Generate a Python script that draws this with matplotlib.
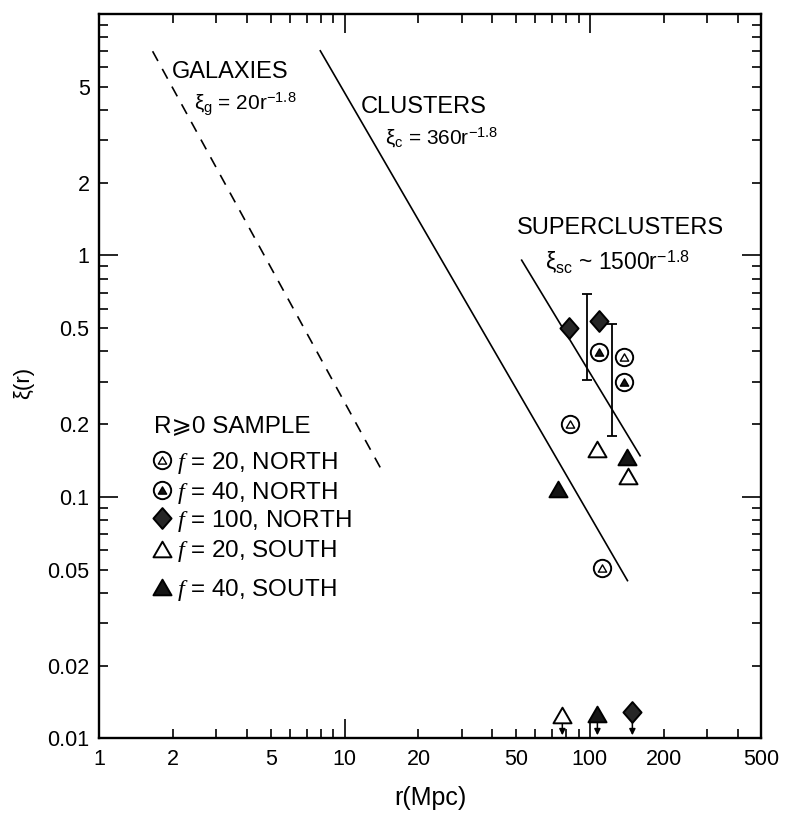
import matplotlib
matplotlib.use('Agg')
import matplotlib.pyplot as plt
import numpy as np
from matplotlib.path import Path
from matplotlib.ticker import FixedLocator, FuncFormatter

plt.rcParams['font.family'] = ['Liberation Sans', 'DejaVu Sans']
plt.rcParams['mathtext.fontset'] = 'custom'
plt.rcParams['mathtext.rm'] = 'Liberation Sans'
plt.rcParams['mathtext.it'] = 'Liberation Serif:italic'
plt.rcParams['mathtext.bf'] = 'Liberation Sans:bold'
plt.rcParams['lines.scale_dashes'] = False

# ---------------- data ----------------
# f=20, NORTH  (circle with open triangle)
r_n20 = [83.1, 138.2, 111.6]
xi_n20 = [0.200, 0.378, 0.0508]
# f=40, NORTH  (circle with filled triangle)
r_n40 = [108.6, 137.8]
xi_n40 = [0.397, 0.300]
# f=100, NORTH (filled diamond)
r_n100 = [82.2, 109.0]
xi_n100 = [0.501, 0.533]
# f=20, SOUTH  (open triangle)
r_s20 = [107.4, 142.7]
xi_s20 = [0.158, 0.122]
# f=40, SOUTH  (filled triangle)
r_s40 = [141.4, 74.1]
xi_s40 = [0.1464, 0.1074]

# upper limits (arrows)
r_lim_s20 = [77.2]
xi_lim_s20 = [0.0125]
r_lim_s40 = [107.3]
xi_lim_s40 = [0.0126]
r_lim_n100 = [149.0]
xi_lim_n100 = [0.0128]
xi_lim_tip = 0.0103

# error bars
r_err = [97.0, 123.6]
xi_err_lo = [0.304, 0.179]
xi_err_hi = [0.690, 0.519]

# power-law lines (end points)
gal_r = [1.649, 14.03]
gal_xi = [7.0, 0.1313]
clu_r = [7.96, 142.3]
clu_xi = [7.03, 0.045]
sc_r = [52.7, 160.2]
sc_xi = [0.955, 0.148]

# ticks
x_major = [1, 10, 100]
x_minor = [2, 3, 4, 5, 6, 7, 8, 9, 20, 30, 40, 50, 60, 70, 80, 90, 200, 300, 400, 500]
x_labeled = [1, 2, 5, 10, 20, 50, 100, 200, 500]
y_major = [0.01, 0.1, 1, 10]
y_minor = [0.02, 0.03, 0.04, 0.05, 0.06, 0.07, 0.08, 0.09,
           0.2, 0.3, 0.4, 0.5, 0.6, 0.7, 0.8, 0.9,
           2, 3, 4, 5, 6, 7, 8, 9]
y_labeled = {0.01: '0.01', 0.02: '0.02', 0.05: '0.05', 0.1: '0.1', 0.2: '0.2',
             0.5: '0.5', 1: '1', 2: '2', 5: '5'}

legend_title = 'R\u2A7E0 SAMPLE'
legend_labels = ['$f$ = 20, NORTH', '$f$ = 40, NORTH', '$f$ = 100, NORTH',
                 '$f$ = 20, SOUTH', '$f$ = 40, SOUTH']

# ---------------- styles ----------------
TRI = Path([(-1, -0.866), (1, -0.866), (0, 0.866), (-1, -0.866)], closed=True)
DIA = Path([(0, 1), (0.87, 0), (0, -1), (-0.87, 0), (0, 1)], closed=True)
FILL = '#151515'
DFILL = '#262626'
ms_circ = 12.5
ms_inner = 6.0
ms_tri = 13
ms_dia = 15
mew = 1.4

fig = plt.figure(figsize=(7.87, 8.14), dpi=100)
ax = fig.add_axes([0.1262, 0.0929, 0.8412, 0.8901])
ax.set_xscale('log')
ax.set_yscale('log')
ax.set_xlim(1, 500)
ax.set_ylim(0.01, 10)

# lines
ax.plot(gal_r, gal_xi, color='k', lw=1.2, dashes=(8.0, 6.5), zorder=2)
ax.plot(clu_r, clu_xi, color='k', lw=1.2, zorder=2)
ax.plot(sc_r, sc_xi, color='k', lw=1.2, zorder=2)

# error bars
xc = np.sqrt(np.array(xi_err_lo) * np.array(xi_err_hi))
ax.errorbar(r_err, xc, yerr=[xc - np.array(xi_err_lo), np.array(xi_err_hi) - xc],
            fmt='none', ecolor='k', elinewidth=1.3, capsize=3.5, capthick=1.3, zorder=2)

def circ_tri(x, y, filled, **kw):
    ax.plot(x, y, 'o', ms=ms_circ, mfc='white', mec='k', mew=mew, ls='none', **kw)
    ax.plot(x, y, marker=TRI, ms=ms_inner, mfc=(FILL if filled else 'white'),
            mec='k', mew=1.0, ls='none', **kw)

def tri(x, y, filled, **kw):
    ax.plot(x, y, marker=TRI, ms=ms_tri, mfc=(FILL if filled else 'white'),
            mec='k', mew=mew, ls='none', **kw)

def dia(x, y, **kw):
    ax.plot(x, y, marker=DIA, ms=ms_dia, mfc=DFILL, mec='k', mew=mew, ls='none', **kw)

circ_tri(r_n20, xi_n20, False, zorder=4)
circ_tri(r_n40, xi_n40, True, zorder=4)
dia(r_n100, xi_n100, zorder=4)
tri(r_s20, xi_s20, False, zorder=4)
tri(r_s40, xi_s40, True, zorder=4)

# upper limits
for rr, yy in ((r_lim_s20, xi_lim_s20), (r_lim_s40, xi_lim_s40), (r_lim_n100, xi_lim_n100)):
    for a, b in zip(rr, yy):
        ax.annotate('', xy=(a, xi_lim_tip), xytext=(a, b),
                    arrowprops=dict(arrowstyle='-|>', color='k', lw=1.1,
                                    mutation_scale=9, shrinkA=0, shrinkB=0),
                    zorder=3)
tri(r_lim_s20, xi_lim_s20, False, zorder=4)
tri(r_lim_s40, xi_lim_s40, True, zorder=4)
dia(r_lim_n100, xi_lim_n100, zorder=4)

# annotations
ax.text(1.984, 5.40, 'GALAXIES', fontsize=17, ha='left', va='baseline')
ax.text(2.44, 3.995, '\u03BE${}_{\\mathdefault{g}}$ = 20r$^{\\mathdefault{-1.8}}$',
        fontsize=15, ha='left', va='baseline')
ax.text(11.6, 3.875, 'CLUSTERS', fontsize=17, ha='left', va='baseline')
ax.text(14.6, 2.88, '\u03BE${}_{\\mathdefault{c}}$ = 360r$^{\\mathdefault{-1.8}}$',
        fontsize=15, ha='left', va='baseline')
ax.text(50.45, 1.222, 'SUPERCLUSTERS', fontsize=17, ha='left', va='baseline')
ax.text(65.5, 0.872, '\u03BE${}_{\\mathdefault{sc}}$ ~ 1500r$^{\\mathdefault{-1.8}}$',
        fontsize=16.5, ha='left', va='baseline')

# legend block
leg_x_mark = 1.798
leg_x_text = 2.064
ax.text(1.677, 0.1848, legend_title, fontsize=17.5, ha='left', va='baseline')
row_c = [0.1415, 0.1063, 0.0814, 0.0611, 0.0422]
row_b = [0.1310, 0.0984, 0.0753, 0.0565, 0.0390]
circ_tri([leg_x_mark], [row_c[0]], False, zorder=4)
circ_tri([leg_x_mark], [row_c[1]], True, zorder=4)
dia([leg_x_mark], [row_c[2]], zorder=4)
tri([leg_x_mark], [row_c[3]], False, zorder=4)
tri([leg_x_mark], [row_c[4]], True, zorder=4)
for lab, yb in zip(legend_labels, row_b):
    ax.text(leg_x_text, yb, lab, fontsize=17.5, ha='left', va='baseline')

# ticks
ax.xaxis.set_major_locator(FixedLocator(x_major))
ax.xaxis.set_minor_locator(FixedLocator(x_minor))
fmt_x = FuncFormatter(lambda v, p: ('%g' % v) if any(abs(v - t) < 1e-9 * t for t in x_labeled) else '')
ax.xaxis.set_major_formatter(fmt_x)
ax.xaxis.set_minor_formatter(fmt_x)
ax.yaxis.set_major_locator(FixedLocator(y_major))
ax.yaxis.set_minor_locator(FixedLocator(y_minor))
def fy(v, p):
    for k, s in y_labeled.items():
        if abs(v - k) < 1e-6 * k:
            return s
    return ''
ax.yaxis.set_major_formatter(FuncFormatter(fy))
ax.yaxis.set_minor_formatter(FuncFormatter(fy))

ax.tick_params(which='both', direction='in', top=True, right=True, labelsize=15.5,
               width=1.2, colors='k')
ax.tick_params(which='major', length=14)
ax.tick_params(which='minor', length=6.5)
ax.tick_params(axis='x', which='both', pad=8)
ax.tick_params(axis='y', which='both', pad=7)
for s in ax.spines.values():
    s.set_linewidth(1.7)

ax.set_xlabel('r(Mpc)', fontsize=18)
ax.set_ylabel('\u03BE(r)', fontsize=16)
ax.xaxis.set_label_coords(0.5, -0.066)
ax.yaxis.set_label_coords(-0.098, 0.49)

fig.savefig('out.png', dpi=100)
